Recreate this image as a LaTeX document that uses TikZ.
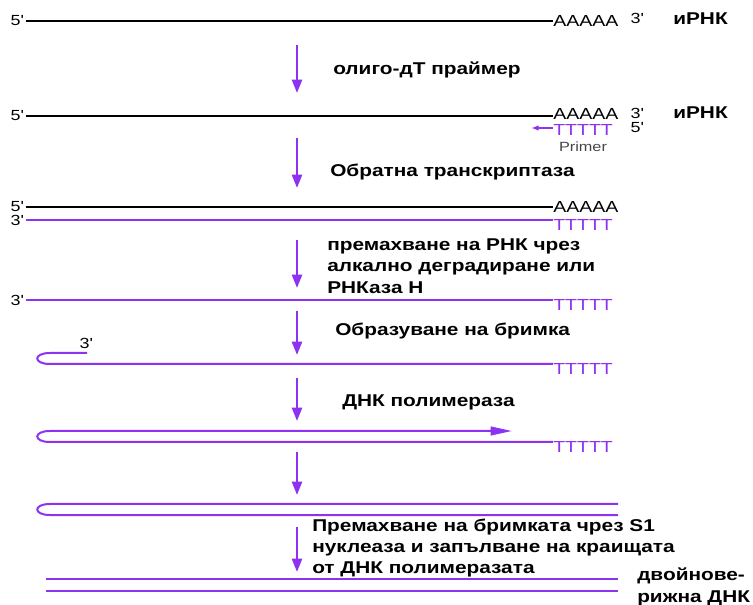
\documentclass[tikz,border=0pt]{standalone}
\usepackage{fontspec}
\setmainfont{Liberation Sans}[FakeStretch=1.22]
\usetikzlibrary{arrows.meta}
\definecolor{dnaviolet}{RGB}{140,50,240}
\definecolor{primgray}{RGB}{70,70,70}
\newcommand{\pr}{\textquotesingle}

\begin{document}
\begin{tikzpicture}[x=0.75pt, y=-0.75pt,
  note/.style={font=\bfseries\fontsize{12.8}{16}\selectfont, anchor=west,
               align=left, inner sep=0pt},
  prime/.style={font=\fontsize{11}{12}\selectfont, inner sep=1.5pt},
  tail/.style={font=\fontsize{12}{14}\selectfont, anchor=west, inner sep=0pt},
  rna/.style={line width=2pt, black},
  cdna/.style={line width=1.5pt, dnaviolet},
  stepar/.style={line width=1.8pt, dnaviolet, -{Triangle[length=10pt,width=7.5pt]}},
  ]
  \useasboundingbox (0,0) rectangle (753,605);

  % steps
  \foreach \i/\ya/\yb in {1/45/93, 2/138/188, 3/240/288, 4/311/355,
                          5/378/421, 6/452/495, 7/527/572} {
    \coordinate (s\i) at (297,\ya);
    \coordinate (e\i) at (297,\yb);
    \draw[stepar] (s\i) -- (e\i);
  }

  % mRNA
  \node[prime] (p1) at (17,21) {5\pr};
  \node[tail] (a1) at (553,21) {AAAAA};
  \node[prime] (q1) at (637,18) {3\pr};
  \node[note] (m1) at (673,19) {иРНК};
  \draw[rna] (p1) -- (a1);
  \node[note] (n1) at (333,70) {олиго-дТ праймер};

  % mRNA + primer
  \node[prime] (p2) at (17,116) {5\pr};
  \coordinate (l2) at (553,116);
  \node[tail] (a2) at (553,114.5) {AAAAA};
  \node[prime] (q2) at (637,113) {3\pr};
  \node[note] (m2) at (673,113) {иРНК};
  \node[tail, dnaviolet] (t2) at (553,130.5) {TTTTT};
  \node[prime, primgray, font=\fontsize{10}{11}\selectfont, inner sep=0pt] (pm) at (583,146.5) {Primer};
  \node[prime] (q2b) at (637,128) {5\pr};
  \coordinate (pe) at (532,128);
  \draw[rna] (p2) -- (l2);
  \draw[dnaviolet, line width=1pt, -{Triangle[length=5pt,width=3.5pt]}] (t2.west |- pe) -- (pe);
  \node[note] (n2) at (330,172) {Обратна транскриптаза};

  % hybrid
  \node[prime] (p3a) at (17,207) {5\pr};
  \node[prime] (p3b) at (17,220) {3\pr};
  \node[tail] (a3) at (553,207) {AAAAA};
  \node[tail, dnaviolet] (t3) at (553,225) {TTTTT};
  \draw[rna] (p3a) -- (p3a -| a3.west);
  \draw[cdna] (p3b) -- (p3b -| t3.west);
  \node[note] (n3) at (327,266) {премахване на РНК чрез\\алкално деградиране или\\РНКаза Н};

  % single cDNA
  \node[prime] (p4) at (17,300) {3\pr};
  \node[tail, dnaviolet] (t4) at (553,305) {TTTTT};
  \draw[cdna] (p4) -- (p4 -| t4.west);
  \node[note] (n4) at (335,331) {Образуване на бримка};

  % hairpin
  \node[prime] (q5) at (86,343) {3\pr};
  \coordinate (h5) at (87,353);
  \coordinate (b5) at (50,364);
  \node[tail, dnaviolet] (t5) at (553,369) {TTTTT};
  \draw[cdna] (h5) -- (50,353) .. controls (33,353) and (33,364) .. (b5) -- (b5 -| t5.west);
  \node[note] (n5) at (342,402) {ДНК полимераза};

  % second strand
  \coordinate (h6) at (512,431);
  \coordinate (b6) at (50,442);
  \node[tail, dnaviolet] (t6) at (553,447) {TTTTT};
  \draw[cdna, -{Triangle[length=16pt,width=6.5pt]}] (b6 -| t6.west) -- (b6)
    .. controls (33,442) and (33,431) .. (50,431) -- (h6);

  % full hairpin
  \coordinate (h7) at (618,504);
  \coordinate (b7) at (618,515);
  \draw[cdna] (h7) -- (50,504) .. controls (33,504) and (33,515) .. (50,515) -- (b7);
  \node[note] (n7) at (312,548) {Премахване на бримката чрез S1\\нуклеаза и запълване на краищата\\от ДНК полимеразата};

  % ds DNA
  \coordinate (d1) at (46,579);
  \coordinate (d2) at (618,579);
  \coordinate (d3) at (46,591);
  \coordinate (d4) at (618,591);
  \draw[cdna] (d1) -- (d2);
  \draw[cdna] (d3) -- (d4);
  \node[note] (n8) at (637,587) {двойнове-\\рижна ДНК};
\end{tikzpicture}
\end{document}
